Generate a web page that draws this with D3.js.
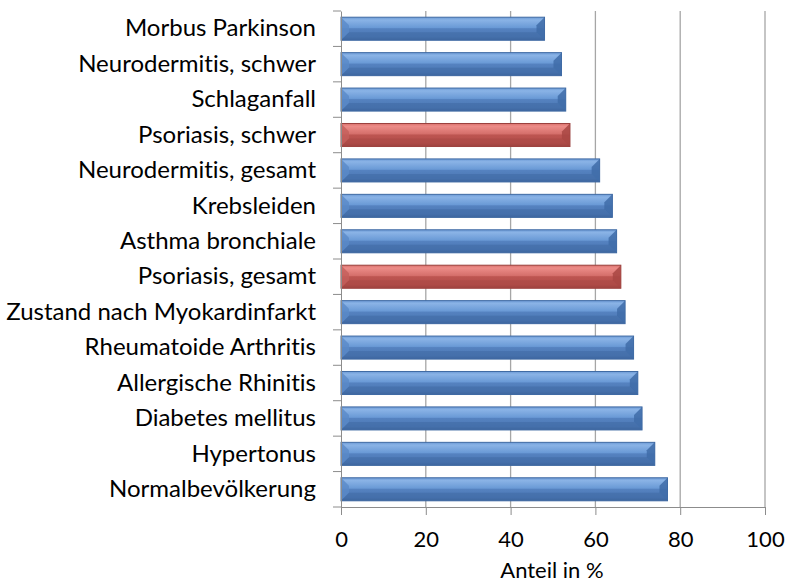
<!DOCTYPE html>
<html>
<head>
<meta charset="utf-8">
<script src="https://cdn.jsdelivr.net/npm/d3@7"></script>
<style>
  body { margin: 0; background: #fff; }
  text { font-family: Lato, "Open Sans", sans-serif; fill: #000; font-variant-ligatures: none; }
</style>
</head>
<body>
<div id="chart"></div>
<script>
// categories from top to bottom
const categories = [
  "Morbus Parkinson",
  "Neurodermitis, schwer",
  "Schlaganfall",
  "Psoriasis, schwer",
  "Neurodermitis, gesamt",
  "Krebsleiden",
  "Asthma bronchiale",
  "Psoriasis, gesamt",
  "Zustand nach Myokardinfarkt",
  "Rheumatoide Arthritis",
  "Allergische Rhinitis",
  "Diabetes mellitus",
  "Hypertonus",
  "Normalbevölkerung"
];
const values = [48, 52, 53, 54, 61, 64, 65, 66, 67, 69, 70, 71, 74, 77];
const highlighted = ["Psoriasis, schwer", "Psoriasis, gesamt"];
const xTicks = [0, 20, 40, 60, 80, 100];
const xTitle = "Anteil in %";

const W = 791, H = 585;
const margin = { top: 11, right: 26, bottom: 78, left: 341 },
    width = W - margin.left - margin.right,
    height = H - margin.top - margin.bottom;

const svgRoot = d3.select("#chart").append("svg")
    .attr("width", W)
    .attr("height", H);

const defs = svgRoot.append("defs");
function grad(id, stops) {
    const g = defs.append("linearGradient").attr("id", id)
        .attr("x1", 0).attr("y1", 0).attr("x2", 0).attr("y2", 1);
    stops.forEach(s => g.append("stop").attr("offset", s[0]).attr("stop-color", s[1]));
}
grad("blueGrad", [[0, "#6d9bd6"], [0.12, "#8ab3e6"], [0.45, "#6a9ad6"], [0.5, "#5582c0"], [0.85, "#4c78b4"], [1, "#3b6299"]]);
grad("redGrad", [[0, "#d9706c"], [0.12, "#ec8c88"], [0.45, "#d56f6b"], [0.5, "#bd5551"], [0.85, "#b34d4a"], [1, "#8f3a38"]]);

const svg = svgRoot.append("g")
    .attr("transform", `translate(${margin.left}, ${margin.top})`);

const x = d3.scaleLinear().domain([0, 100]).range([0, width]);
const y = d3.scaleBand().domain(categories).range([0, height]).paddingInner(0.35).paddingOuter(0.175);

// gridlines
svg.append("g")
    .selectAll("line")
    .data(xTicks.filter(d => d > 0))
    .join("line")
    .attr("x1", d => x(d)).attr("x2", d => x(d))
    .attr("y1", 0).attr("y2", height)
    .attr("stroke", "#a6a6a6")
    .attr("stroke-width", 1.3);

// bars
const bars = svg.append("g")
    .selectAll("g")
    .data(categories.map((c, i) => ({ name: c, value: values[i] })))
    .join("g")
    .attr("transform", d => `translate(0, ${y(d.name)})`);

const bh = y.bandwidth();
const bev = Math.round(bh * 0.35);

bars.append("rect")
    .attr("x", 0)
    .attr("y", 0)
    .attr("width", d => x(d.value))
    .attr("height", bh)
    .attr("fill", d => highlighted.includes(d.name) ? "url(#redGrad)" : "url(#blueGrad)")
    .attr("stroke", d => highlighted.includes(d.name) ? "#9a403d" : "#3f6aa3")
    .attr("stroke-width", 1);

// bevel at right end
bars.append("path")
    .attr("d", d => {
        const r = x(d.value);
        return `M${r},0 L${r - bev},${bev} L${r - bev},${bh - bev} L${r},${bh} Z`;
    })
    .attr("fill", d => highlighted.includes(d.name) ? "#a84643" : "#3f6ca8")
    .attr("opacity", 0.85);

// bevel at left end
bars.append("path")
    .attr("d", `M0,0 L${bev},${bev} L${bev},${bh - bev} L0,${bh} Z`)
    .attr("fill", d => highlighted.includes(d.name) ? "#c45f5b" : "#5a8ac8")
    .attr("opacity", 0.8);

// bottom bevel
bars.append("path")
    .attr("d", d => {
        const r = x(d.value);
        return `M0,${bh} L${bev},${bh - bev} L${r - bev},${bh - bev} L${r},${bh} Z`;
    })
    .attr("fill", d => highlighted.includes(d.name) ? "#a94845" : "#3f6aa4")
    .attr("opacity", 0.55);

// left axis
const axisL = d3.axisLeft(y).tickSize(0).tickPadding(25);
svg.append("g")
    .call(axisL)
    .call(g => g.select(".domain").attr("stroke", "#8c8c8c"))
    .selectAll("text")
    .style("font-size", "24px");

// category separator ticks on left
const step = y.step();
svg.append("g")
    .selectAll("line")
    .data(d3.range(categories.length + 1))
    .join("line")
    .attr("x1", -8).attr("x2", 0)
    .attr("y1", i => i * step).attr("y2", i => i * step)
    .attr("stroke", "#8c8c8c");

// bottom axis
const axisB = d3.axisBottom(x).tickValues(xTicks).tickSize(8).tickPadding(16);
svg.append("g")
    .attr("transform", `translate(0, ${height})`)
    .call(axisB)
    .call(g => g.selectAll("line, .domain").attr("stroke", "#8c8c8c"))
    .selectAll("text")
    .style("font-size", "22px");

svg.append("text")
    .attr("x", width / 2 - 1)
    .attr("y", height + 71)
    .attr("text-anchor", "middle")
    .style("font-size", "22px")
    .text(xTitle);
</script>
</body>
</html>
